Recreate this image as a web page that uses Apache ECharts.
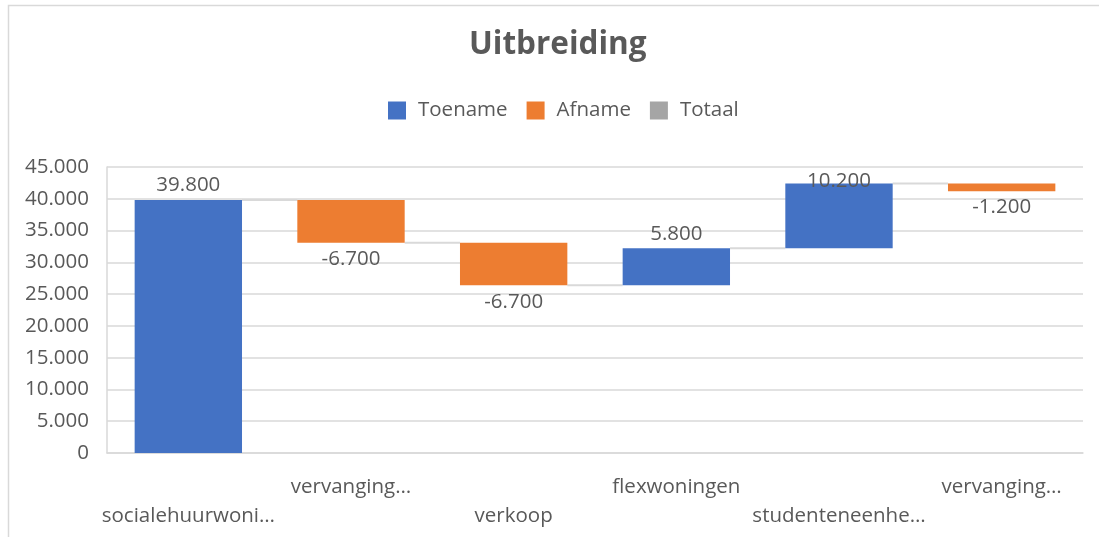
<!DOCTYPE html>
<html>
<head>
<meta charset="utf-8">
<script src="https://cdn.jsdelivr.net/npm/echarts@6/dist/echarts.min.js"></script>
<style>
html,body{margin:0;padding:0;background:#fff;}
#chart{width:1099px;height:537px;}
</style>
</head>
<body>
<div id="chart"></div>
<script>
const categories = ['socialehuurwoni…', 'vervanging…', 'verkoop', 'flexwoningen', 'studenteneenhe…', 'vervanging…'];
const changes = [39800, -6700, -6700, 5800, 10200, -1200];
const legendNames = ['Toename', 'Afname', 'Totaal'];
const yMin = 0, yMax = 45000, yStep = 5000;

const FONT = '"Open Sans", sans-serif';
const TXT = '#595959';
const GRID = '#D9D9D9';
const BLUE = '#4472C4', ORANGE = '#ED7D31', GRAY = '#A5A5A5';
const BAR_RATIO = 0.66;

function fmt(v) {
  const s = String(Math.round(Math.abs(v)));
  return (v < 0 ? '-' : '') + s.replace(/\B(?=(\d{3})+(?!\d))/g, '.');
}

const base = [], up = [], down = [], connectors = [];
let cum = 0;
changes.forEach((c, i) => {
  const start = cum, end = cum + c;
  base.push(Math.min(start, end));
  up.push(c > 0 ? c : '-');
  down.push(c < 0 ? -c : '-');
  cum = end;
  if (i < changes.length - 1) connectors.push([i, cum]);
});

const chart = echarts.init(document.getElementById('chart'), null, {renderer: 'canvas'});
chart.setOption({
  backgroundColor: '#fff',
  animation: false,
  graphic: [{
    type: 'rect', z: -10,
    shape: {x: 8.5, y: 5.5, width: 1200, height: 700},
    style: {fill: null, stroke: GRID, lineWidth: 1.5}
  }],
  title: {
    text: 'Uitbreiding', left: 469, top: 28, padding: 0,
    textStyle: {fontFamily: FONT, fontSize: 31.5, fontWeight: 'bold', color: TXT, lineHeight: 34}
  },
  legend: {
    data: legendNames, top: 100, left: 388, padding: 0,
    itemWidth: 18, itemHeight: 18, itemGap: 19, icon: 'rect',
    textStyle: {fontFamily: FONT, fontSize: 20.5, color: TXT, padding: [0, 0, 0, 7]}
  },
  grid: {left: 107, right: 16, top: 167, bottom: 84, containLabel: false},
  xAxis: {
    type: 'category', data: categories,
    axisLine: {show: true, lineStyle: {color: GRID, width: 1.5}},
    axisTick: {show: false},
    axisLabel: {
      interval: 0, margin: 20, fontFamily: FONT, fontSize: 20.5, color: TXT,
      lineHeight: 29, verticalAlign: 'top',
      formatter: (v, i) => (i % 2 === 0 ? '\n' + v : v)
    }
  },
  yAxis: {
    type: 'value', min: yMin, max: yMax, interval: yStep,
    axisLine: {show: true, lineStyle: {color: GRID, width: 1.5}},
    axisTick: {show: false},
    splitLine: {lineStyle: {color: GRID, width: 1.5}},
    axisLabel: {margin: 18, fontFamily: FONT, fontSize: 20.5, color: TXT, formatter: v => fmt(v)}
  },
  series: [
    {
      name: 'base', type: 'bar', stack: 'w', barWidth: (BAR_RATIO * 100) + '%',
      itemStyle: {color: 'transparent'}, emphasis: {disabled: true},
      data: base, silent: true
    },
    {
      name: 'Toename', type: 'bar', stack: 'w', barWidth: (BAR_RATIO * 100) + '%',
      itemStyle: {color: BLUE},
      label: {
        show: true, position: 'top', distance: 4,
        fontFamily: FONT, fontSize: 20.5, color: TXT,
        formatter: p => fmt(p.value)
      },
      data: up.map((v, i) => (v === '-' ? v :
        (i === 4 ? {value: v, label: {distance: -8}} : v)))
    },
    {
      name: 'Afname', type: 'bar', stack: 'w', barWidth: (BAR_RATIO * 100) + '%',
      itemStyle: {color: ORANGE},
      label: {
        show: true, position: 'bottom', distance: 6,
        fontFamily: FONT, fontSize: 20.5, color: TXT,
        formatter: p => fmt(-p.value)
      },
      data: down
    },
    {
      name: 'Totaal', type: 'bar', stack: 'w', barWidth: (BAR_RATIO * 100) + '%',
      itemStyle: {color: GRAY}, data: []
    },
    {
      name: 'connectors', type: 'custom', z: 1, silent: true,
      encode: {x: 0, y: 1},
      data: connectors,
      renderItem: (params, api) => {
        const p = api.coord([api.value(0), api.value(1)]);
        const band = api.size([1, 0])[0];
        const half = band * BAR_RATIO / 2;
        return {
          type: 'line',
          shape: {x1: p[0] + half, y1: p[1], x2: p[0] + band - half, y2: p[1]},
          style: {stroke: GRID, lineWidth: 2}
        };
      }
    }
  ]
});
</script>
</body>
</html>
